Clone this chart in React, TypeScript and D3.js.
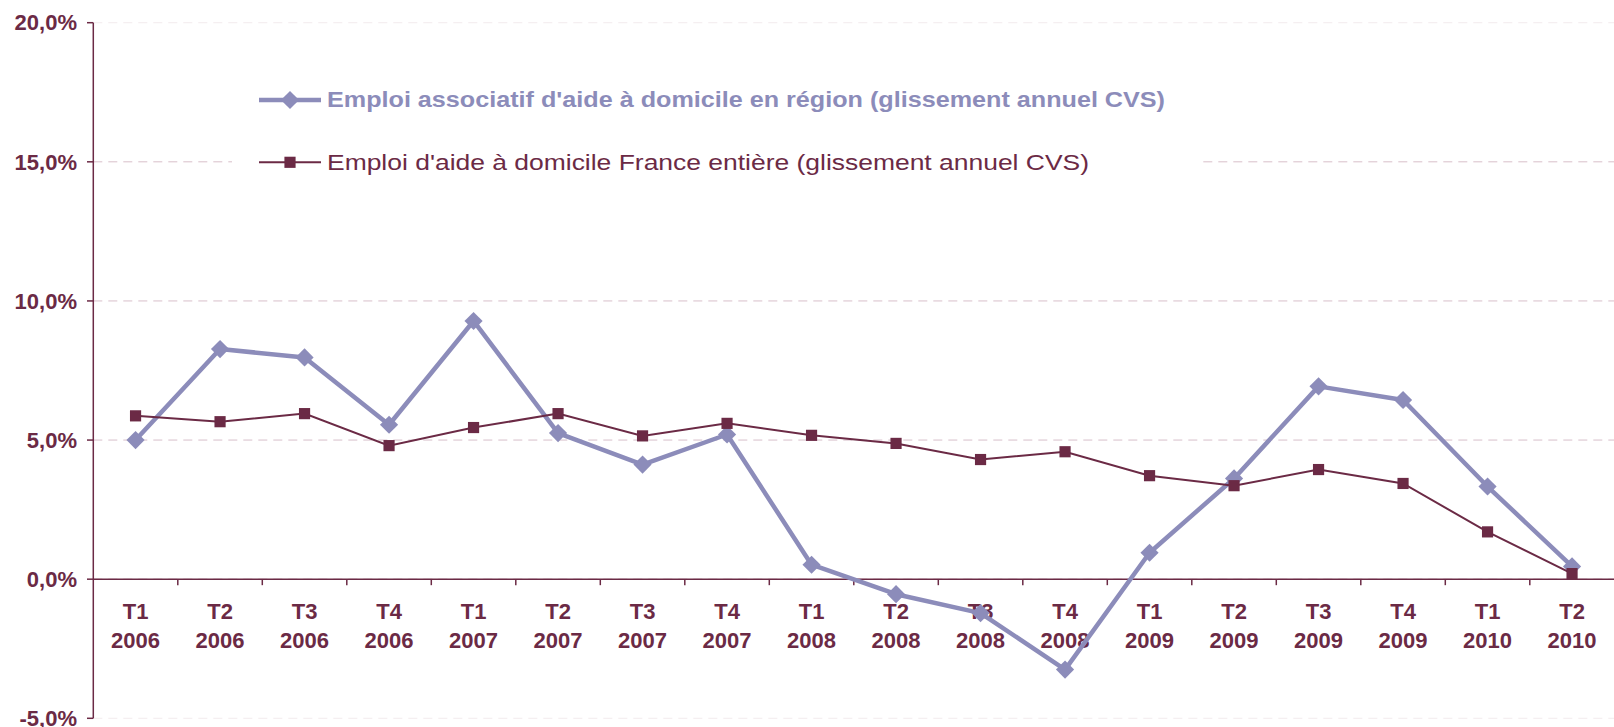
import React from 'react'
import * as d3 from 'd3'

const quarters = ['T1', 'T2', 'T3', 'T4', 'T1', 'T2', 'T3', 'T4', 'T1', 'T2', 'T3', 'T4', 'T1', 'T2', 'T3', 'T4', 'T1', 'T2']
const years = ['2006', '2006', '2006', '2006', '2007', '2007', '2007', '2007', '2008', '2008', '2008', '2008', '2009', '2009', '2009', '2009', '2010', '2010']
const regionSeries = [5.0, 8.27, 7.97, 5.55, 9.28, 5.25, 4.12, 5.2, 0.52, -0.54, -1.22, -3.25, 0.95, 3.62, 6.93, 6.44, 3.33, 0.46]
const franceSeries = [5.87, 5.66, 5.95, 4.8, 5.45, 5.95, 5.15, 5.6, 5.17, 4.88, 4.3, 4.58, 3.72, 3.36, 3.94, 3.44, 1.7, 0.2]
const yTicks = [-5, 0, 5, 10, 15, 20]
const legendLabels = [
  "Emploi associatif d'aide à domicile en région (glissement annuel CVS)",
  "Emploi d'aide à domicile France entière (glissement annuel CVS)",
]

const W = 1614
const H = 727
const maroon = '#6b2a45'
const purple = '#8c8cba'
const grid = '#d8bfca'
const font = '"Liberation Sans", Arial, sans-serif'

export default function App() {
  const keys = quarters.map((q, i) => `${q} ${years[i]}`)
  const x = d3.scaleBand().domain(keys).range([93.3, 1614.3])
  const y = d3.scaleLinear().domain([-5, 20]).range([718.3, 22.7])
  const cx = (i: number) => (x(keys[i]) as number) + x.bandwidth() / 2

  const line = d3.line<number>().x((_, i) => cx(i)).y(d => y(d))
  const diamond = d3.symbol().type(d3.symbolSquare).size(165)()
  const square = d3.symbol().type(d3.symbolSquare).size(125)()
  const fmt = (v: number) => `${v.toFixed(1).replace('.', ',')}%`

  return (
    <div style={{ position: 'absolute', left: 0, top: 0 }}>
      <svg width={W} height={H} style={{ display: 'block', background: '#fff' }}>
        {/* grid */}
        {yTicks.map(t => (
          <line key={'g' + t} x1={93.3} x2={W} y1={y(t)} y2={y(t)}
            stroke={grid} strokeWidth={1} strokeDasharray="9,6"
            opacity={t === 20 || t === -5 ? 0.3 : 1} />
        ))}

        {/* legend box */}
        <rect x={232} y={60} width={966} height={125} fill="#fff" />
        <g fontFamily={font} fontSize={22}>
          <line x1={259} x2={321} y1={100} y2={100} stroke={purple} strokeWidth={4.5} />
          <path d={diamond!} transform="translate(290,100) rotate(45)" fill={purple} />
          <text x={327} y={107} fill={purple} fontWeight="bold"
            textLength={838} lengthAdjust="spacingAndGlyphs">{legendLabels[0]}</text>
          <line x1={259} x2={321} y1={162.3} y2={162.3} stroke={maroon} strokeWidth={2} />
          <path d={square!} transform="translate(290,162.3)" fill={maroon} />
          <text x={327} y={169.5} fill={maroon}
            textLength={762} lengthAdjust="spacingAndGlyphs">{legendLabels[1]}</text>
        </g>

        {/* y axis */}
        <line x1={93.3} x2={93.3} y1={y(20)} y2={y(-5)} stroke={maroon} strokeWidth={1.5} />
        {yTicks.map(t => (
          <g key={'y' + t}>
            <line x1={87} x2={93.3} y1={y(t)} y2={y(t)} stroke={maroon} strokeWidth={1.5} />
            <text x={77} y={y(t)} dy="0.35em" textAnchor="end" fill={maroon}
              fontFamily={font} fontSize={22} fontWeight="bold">{fmt(t)}</text>
          </g>
        ))}

        {/* x axis */}
        <line x1={93.3} x2={W} y1={y(0)} y2={y(0)} stroke={maroon} strokeWidth={1.5} />
        {keys.slice(1).map(k => (
          <line key={'xt' + k} x1={x(k)} x2={x(k)} y1={y(0)} y2={y(0) + 6} stroke={maroon} strokeWidth={1.5} />
        ))}
        {keys.map((k, i) => (
          <text key={'xl' + k} x={cx(i)} textAnchor="middle" fill={maroon}
            fontFamily={font} fontSize={22} fontWeight="bold">
            <tspan x={cx(i)} y={619}>{quarters[i]}</tspan>
            <tspan x={cx(i)} y={647.5}>{years[i]}</tspan>
          </text>
        ))}

        {/* region series */}
        <path d={line(regionSeries)!} fill="none" stroke={purple} strokeWidth={4.5} strokeLinejoin="round" />
        {regionSeries.map((v, i) => (
          <path key={'d' + i} d={diamond!} transform={`translate(${cx(i)},${y(v)}) rotate(45)`} fill={purple} />
        ))}

        {/* France series */}
        <path d={line(franceSeries)!} fill="none" stroke={maroon} strokeWidth={2} />
        {franceSeries.map((v, i) => (
          <path key={'s' + i} d={square!} transform={`translate(${cx(i)},${y(v)})`} fill={maroon} />
        ))}
      </svg>
    </div>
  )
}
